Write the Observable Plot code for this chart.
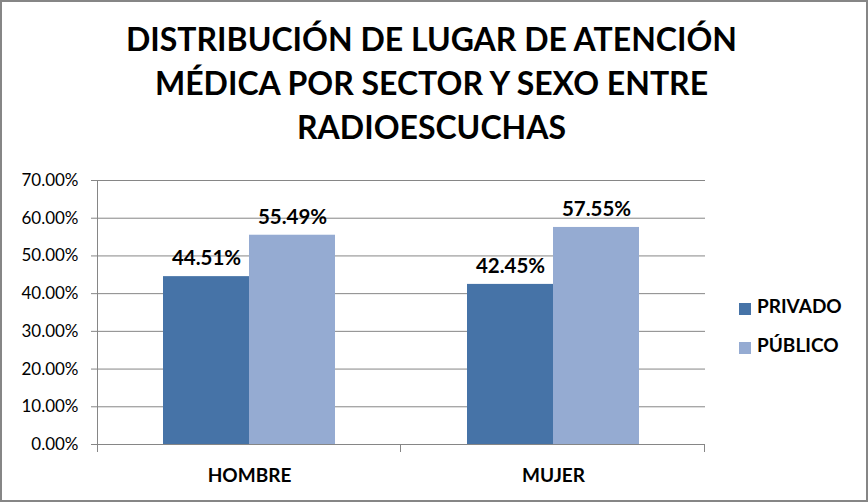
<!DOCTYPE html>
<html>
<head>
<meta charset="utf-8">
<script src="https://cdn.jsdelivr.net/npm/d3@7"></script>
<script src="https://cdn.jsdelivr.net/npm/@observablehq/plot@0.6"></script>
<style>
  html, body { margin: 0; padding: 0; background: #fff; }
  #wrap { position: relative; width: 868px; height: 502px; overflow: hidden; font-family: Lato, "Open Sans", sans-serif; background: #fff; }
  #border { position: absolute; left: 0; top: 0; width: 868px; height: 502px; box-sizing: border-box; border: 2px solid #868686; pointer-events: none; z-index: 5; }
  #title { position: absolute; left: 0; top: 17px; width: 863px; text-align: center; font-weight: bold; font-size: 32px; line-height: 44px; color: #000; }
  #chart { position: absolute; left: 0; top: 160px; }
  .leg { position: absolute; left: 739px; font-weight: bold; font-size: 19px; color: #000; white-space: nowrap; }
  .leg .sw { position: absolute; left: 0; width: 12px; height: 12px; }
  .leg .lab { position: absolute; left: 18px; }
</style>
</head>
<body>
<div id="wrap">
  <div id="title">DISTRIBUCIÓN DE LUGAR DE ATENCIÓN<br>MÉDICA POR SECTOR Y SEXO ENTRE<br>RADIOESCUCHAS</div>
  <div id="chart"></div>
  <div id="legend"></div>
  <div id="border"></div>
</div>
<script>
const categories = ["HOMBRE", "MUJER"];
const series = ["PRIVADO", "PÚBLICO"];
const privado = [0.4451, 0.4245];
const publico = [0.5549, 0.5755];
const yTicks = [0, 0.1, 0.2, 0.3, 0.4, 0.5, 0.6, 0.7];
const colors = ["#4673A7", "#95ABD2"];

const data = categories.flatMap((c, i) => [
  {cat: c, serie: series[0], v: privado[i]},
  {cat: c, serie: series[1], v: publico[i]}
]);
const pct = d3.format(".2%");

const plot = Plot.plot({
  width: 720,
  height: 342,
  marginLeft: 96,
  marginRight: 15,
  marginTop: 20,
  marginBottom: 58,
  style: {fontFamily: "Lato, sans-serif", background: "transparent", overflow: "visible"},
  fx: {domain: categories, padding: 0, label: null},
  x: {domain: series, paddingInner: 0, paddingOuter: 0.75, axis: null},
  y: {domain: [0, 0.7], label: null},
  color: {domain: series, range: colors},
  marks: [
    Plot.gridY(yTicks, {stroke: "#868686", strokeOpacity: 1, strokeWidth: 1}),
    Plot.barY(data, {fx: "cat", x: "serie", y: "v", fill: "serie"}),
    Plot.text(data, {fx: "cat", x: "serie", y: "v", text: d => pct(d.v), dy: -18, fontWeight: "bold", fontSize: 20.5, fill: "#000"}),
    Plot.axisY(yTicks, {tickFormat: pct, tickSize: 6, tickPadding: 13, fontSize: 17, stroke: "#868686", fill: "#000", label: null}),
    Plot.axisFx({anchor: "bottom", tickSize: 0, tickPadding: 24, fontSize: 19, fontWeight: "bold", fill: "#000", label: null})
  ]
});
document.getElementById("chart").appendChild(plot);

// axis line and category separator ticks, positioned through the plot's scales
const fx = plot.scale("fx"), y = plot.scale("y");
const svg = d3.select(plot);
const y0 = y.apply(0), yTop = y.apply(0.7);
const left = fx.apply(categories[0]);
const seps = categories.map(c => fx.apply(c)).concat([fx.apply(categories[categories.length - 1]) + fx.bandwidth]);
svg.append("line").attr("x1", left + 0.5).attr("x2", left + 0.5).attr("y1", yTop).attr("y2", y0 + 8)
  .attr("stroke", "#868686");
svg.append("line").attr("x1", left).attr("x2", seps[seps.length - 1]).attr("y1", y0 + 0.5).attr("y2", y0 + 0.5)
  .attr("stroke", "#868686");
seps.slice(1).forEach(sx => {
  svg.append("line").attr("x1", sx - 0.5).attr("x2", sx - 0.5).attr("y1", y0).attr("y2", y0 + 8).attr("stroke", "#868686");
});

// legend
const legend = document.getElementById("legend");
const legTops = [297, 336];
series.forEach((s, i) => {
  const row = document.createElement("div");
  row.className = "leg";
  row.style.top = legTops[i] + "px";
  row.innerHTML = `<div class="sw" style="top:6px;background:${colors[i]}"></div><div class="lab" style="top:-3px">${s}</div>`;
  legend.appendChild(row);
});
</script>
</body>
</html>
